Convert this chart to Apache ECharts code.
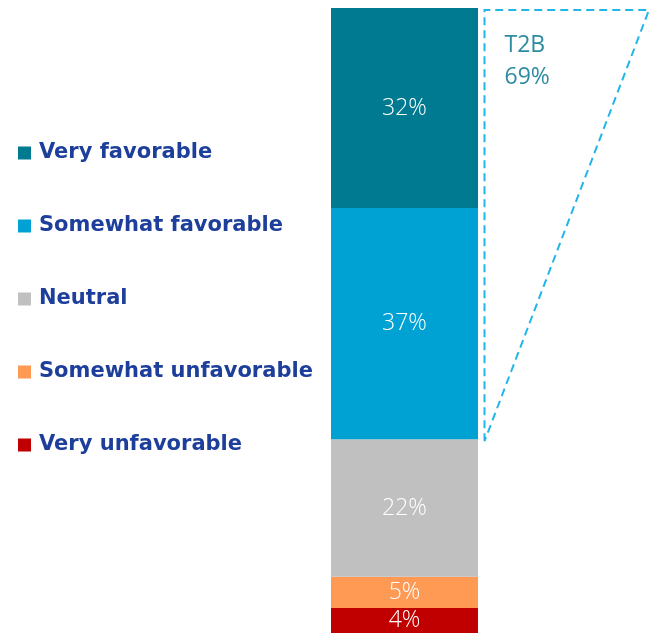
<!DOCTYPE html>
<html>
<head>
<meta charset="utf-8">
<style>
  html, body { margin: 0; padding: 0; background: #ffffff; }
  #chart { width: 649px; height: 633px; }
</style>
<script src="https://cdn.jsdelivr.net/npm/echarts@6/dist/echarts.min.js"></script>
</head>
<body>
<div id="chart"></div>
<script>
// Favorability ratings, top of the bar first
const categories = ['Total'];
const ratingNames = ['Very favorable', 'Somewhat favorable', 'Neutral', 'Somewhat unfavorable', 'Very unfavorable'];
const ratingValues = [32, 37, 22, 5, 4];
const ratingColors = ['#007a90', '#00a2d3', '#c0c0c0', '#ff9a55', '#c00000'];
const topBoxLabel = 'T2B';

const chart = echarts.init(document.getElementById('chart'), null, { renderer: 'canvas' });

// Stack from the bottom up so "Very favorable" ends on top
const series = ratingNames.map((name, i) => ({
  name: name,
  type: 'bar',
  stack: 'total',
  barCategoryGap: '0%',
  data: [ratingValues[i]],
  itemStyle: { color: ratingColors[i] },
  label: {
    show: true,
    position: 'inside',
    formatter: '{c}%',
    color: '#ffffff',
    fontFamily: 'Open Sans',
    fontWeight: 300,
    fontSize: 23
  }
})).reverse();

chart.setOption({
  animation: false,
  grid: { left: 331, width: 147, top: 8, height: 625 },
  xAxis: { type: 'category', data: categories, show: false },
  yAxis: { type: 'value', min: 0, max: 100, show: false },
  legend: {
    data: ratingNames.map((n, i) => ({ name: n, itemStyle: { color: ratingColors[i] } })),
    orient: 'vertical',
    left: 13,
    top: 136,
    padding: 5,
    icon: 'rect',
    itemWidth: 13,
    itemHeight: 13,
    itemGap: 49,
    selectedMode: false,
    textStyle: {
      color: '#1d3f9b',
      fontFamily: 'DejaVu Sans',
      fontWeight: 'bold',
      fontSize: 21,
      lineHeight: 24,
      padding: [0, 0, 0, 3]
    }
  },
  series: series
});

// Dashed "top two box" bracket beside the two favorable segments
const total = ratingValues.reduce((a, b) => a + b, 0);
const t2b = ratingValues[0] + ratingValues[1];
const topPt = chart.convertToPixel({ gridIndex: 0 }, [categories[0], total]);
const cutPt = chart.convertToPixel({ gridIndex: 0 }, [categories[0], total - t2b]);
const barRight = topPt[0] + 147 / 2;
const boxLeft = barRight + 6.5;
const boxTop = topPt[1] + 2;
const boxRight = chart.getWidth();
const boxBottom = cutPt[1] + 2;

chart.setOption({
  graphic: [
    {
      type: 'polyline',
      shape: { points: [[boxLeft, boxBottom], [boxLeft, boxTop], [boxRight, boxTop], [boxLeft, boxBottom]] },
      style: { stroke: '#22b6e8', lineWidth: 2, lineDash: [8, 5], fill: null }
    },
    {
      type: 'text',
      left: boxLeft + 20,
      top: boxTop + 19,
      style: {
        text: topBoxLabel + '\n' + t2b + '%',
        fill: '#2d8ba2',
        fontFamily: 'Open Sans',
        fontSize: 23,
        lineHeight: 32
      }
    }
  ]
});
</script>
</body>
</html>
